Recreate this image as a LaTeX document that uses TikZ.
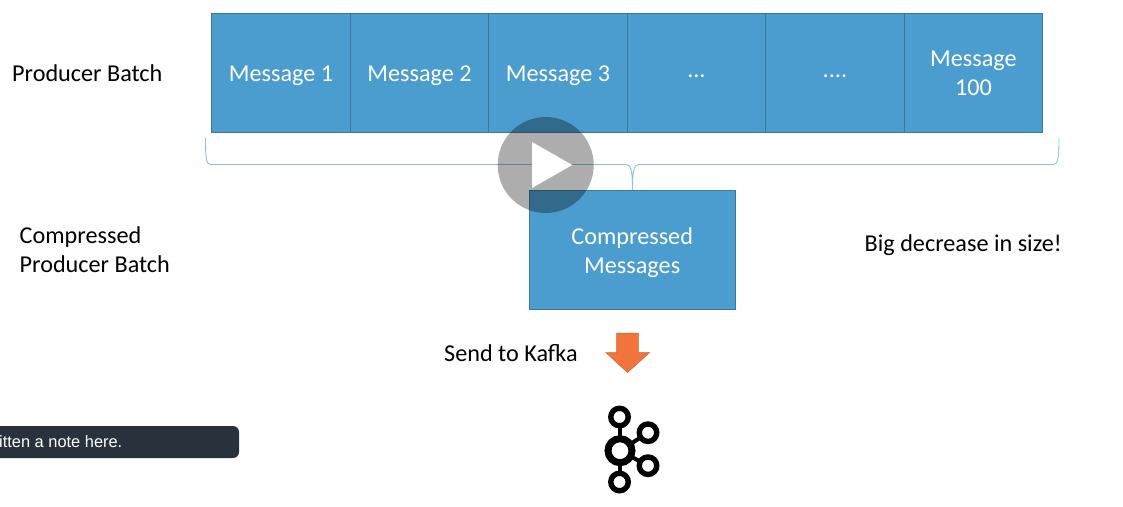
\documentclass[tikz,border=0pt]{standalone}
\usepackage{fontspec}
\setmainfont{Carlito}
\newfontfamily\uifont{Liberation Sans}
\definecolor{boxfill}{HTML}{4A9DCE}
\definecolor{boxline}{HTML}{3F7698}
\definecolor{bracecol}{HTML}{8CC4DF}
\definecolor{arrowfill}{HTML}{F0743C}
\definecolor{tipfill}{HTML}{27323C}
\tikzset{
  msgbox/.style={draw=boxline,fill=boxfill,line width=1.4pt,inner sep=0pt,
    anchor=north west,minimum width=138.5pt,minimum height=119.5pt},
  msgtext/.style={text=white,align=center,inner sep=0pt,yshift=-3pt,
    font=\fontsize{24.2}{29}\selectfont},
  plainlabel/.style={text=black,align=left,inner sep=0pt,anchor=west,font=\fontsize{24.2}{29}\selectfont},
  ring/.style={draw=black,line width=5.4pt,fill=white,circle,inner sep=0pt,minimum size=17.5pt},
}
\begin{document}
\begin{tikzpicture}[x=1pt,y=-1pt]
\useasboundingbox (0,0) rectangle (1123,506);
\fill[white] (0,0) rectangle (1123,506);
% message boxes
\node[msgbox,label={[msgtext]center:Message 1}] (m1) at (211,12.5) {};
\node[msgbox,label={[msgtext]center:Message 2}] (m2) at (349.5,12.5) {};
\node[msgbox,label={[msgtext]center:Message 3}] (m3) at (488,12.5) {};
\node[msgbox,label={[msgtext]center:...}] (m4) at (626.5,12.5) {};
\node[msgbox,label={[msgtext]center:....}] (m5) at (765,12.5) {};
\node[msgbox,label={[msgtext,yshift=2.5pt]center:{Message\\100}}] (m6) at (903.5,12.5) {};
% brace
\draw[bracecol,line width=0.9pt] (205.5,138) .. controls (205.5,158) and (206,164.5) .. (211,164.5)
  -- (626,164.5) .. controls (631,164.5) and (632.5,170) .. (632.5,190)
  .. controls (632.5,170) and (634,164.5) .. (639,164.5)
  -- (1053,164.5) .. controls (1058,164.5) and (1059,158) .. (1059,138);
% compressed box
\node[msgbox,minimum width=206pt,label={[msgtext]center:{Compressed\\Messages}}] (comp) at (528.5,189.5) {};
% labels
\node[plainlabel] (l1) at (12,73) {Producer Batch};
\node[plainlabel] (l2) at (19.5,250) {Compressed\\Producer Batch};
\node[plainlabel] (l3) at (864.5,245) {Big decrease in size!};
\node[plainlabel] (l4) at (444,353.5) {Send to Kafka};
% orange arrow
\draw[arrowfill!85!black,line width=0.5pt,fill=arrowfill] (616.7,333) -- (638.3,333) -- (638.3,352.7) -- (649.5,352.7) -- (627.5,372.5) -- (606,352.7) -- (616.7,352.7) -- cycle;
% kafka logo
\draw[black,line width=4pt] (619.5,417) -- (619.5,482);
\draw[black,line width=4pt] (620,450.7) -- (648,432.7);
\draw[black,line width=4pt] (620,450.7) -- (648,465.7);
\node[ring] (k1) at (619.5,417) {};
\node[ring] (k2) at (648,432.7) {};
\node[ring] (k3) at (648,465.7) {};
\node[ring] (k4) at (619.5,482) {};
\node[ring,minimum size=24pt,line width=7pt] (k0) at (620,450.7) {};
% tooltip
\fill[tipfill,rounded corners=6pt] (-20,426) rectangle (239,458);
\node[anchor=west,inner sep=0pt,text=white,font=\uifont\fontsize{16.4}{20}\selectfont] (tip) at (-1,442) {itten a note here.};
% play button
\fill[black,opacity=0.32] (545.7,165) circle (48);
\fill[white] (532,142) -- (572.3,165) -- (532,188) -- cycle;
\end{tikzpicture}
\end{document}
